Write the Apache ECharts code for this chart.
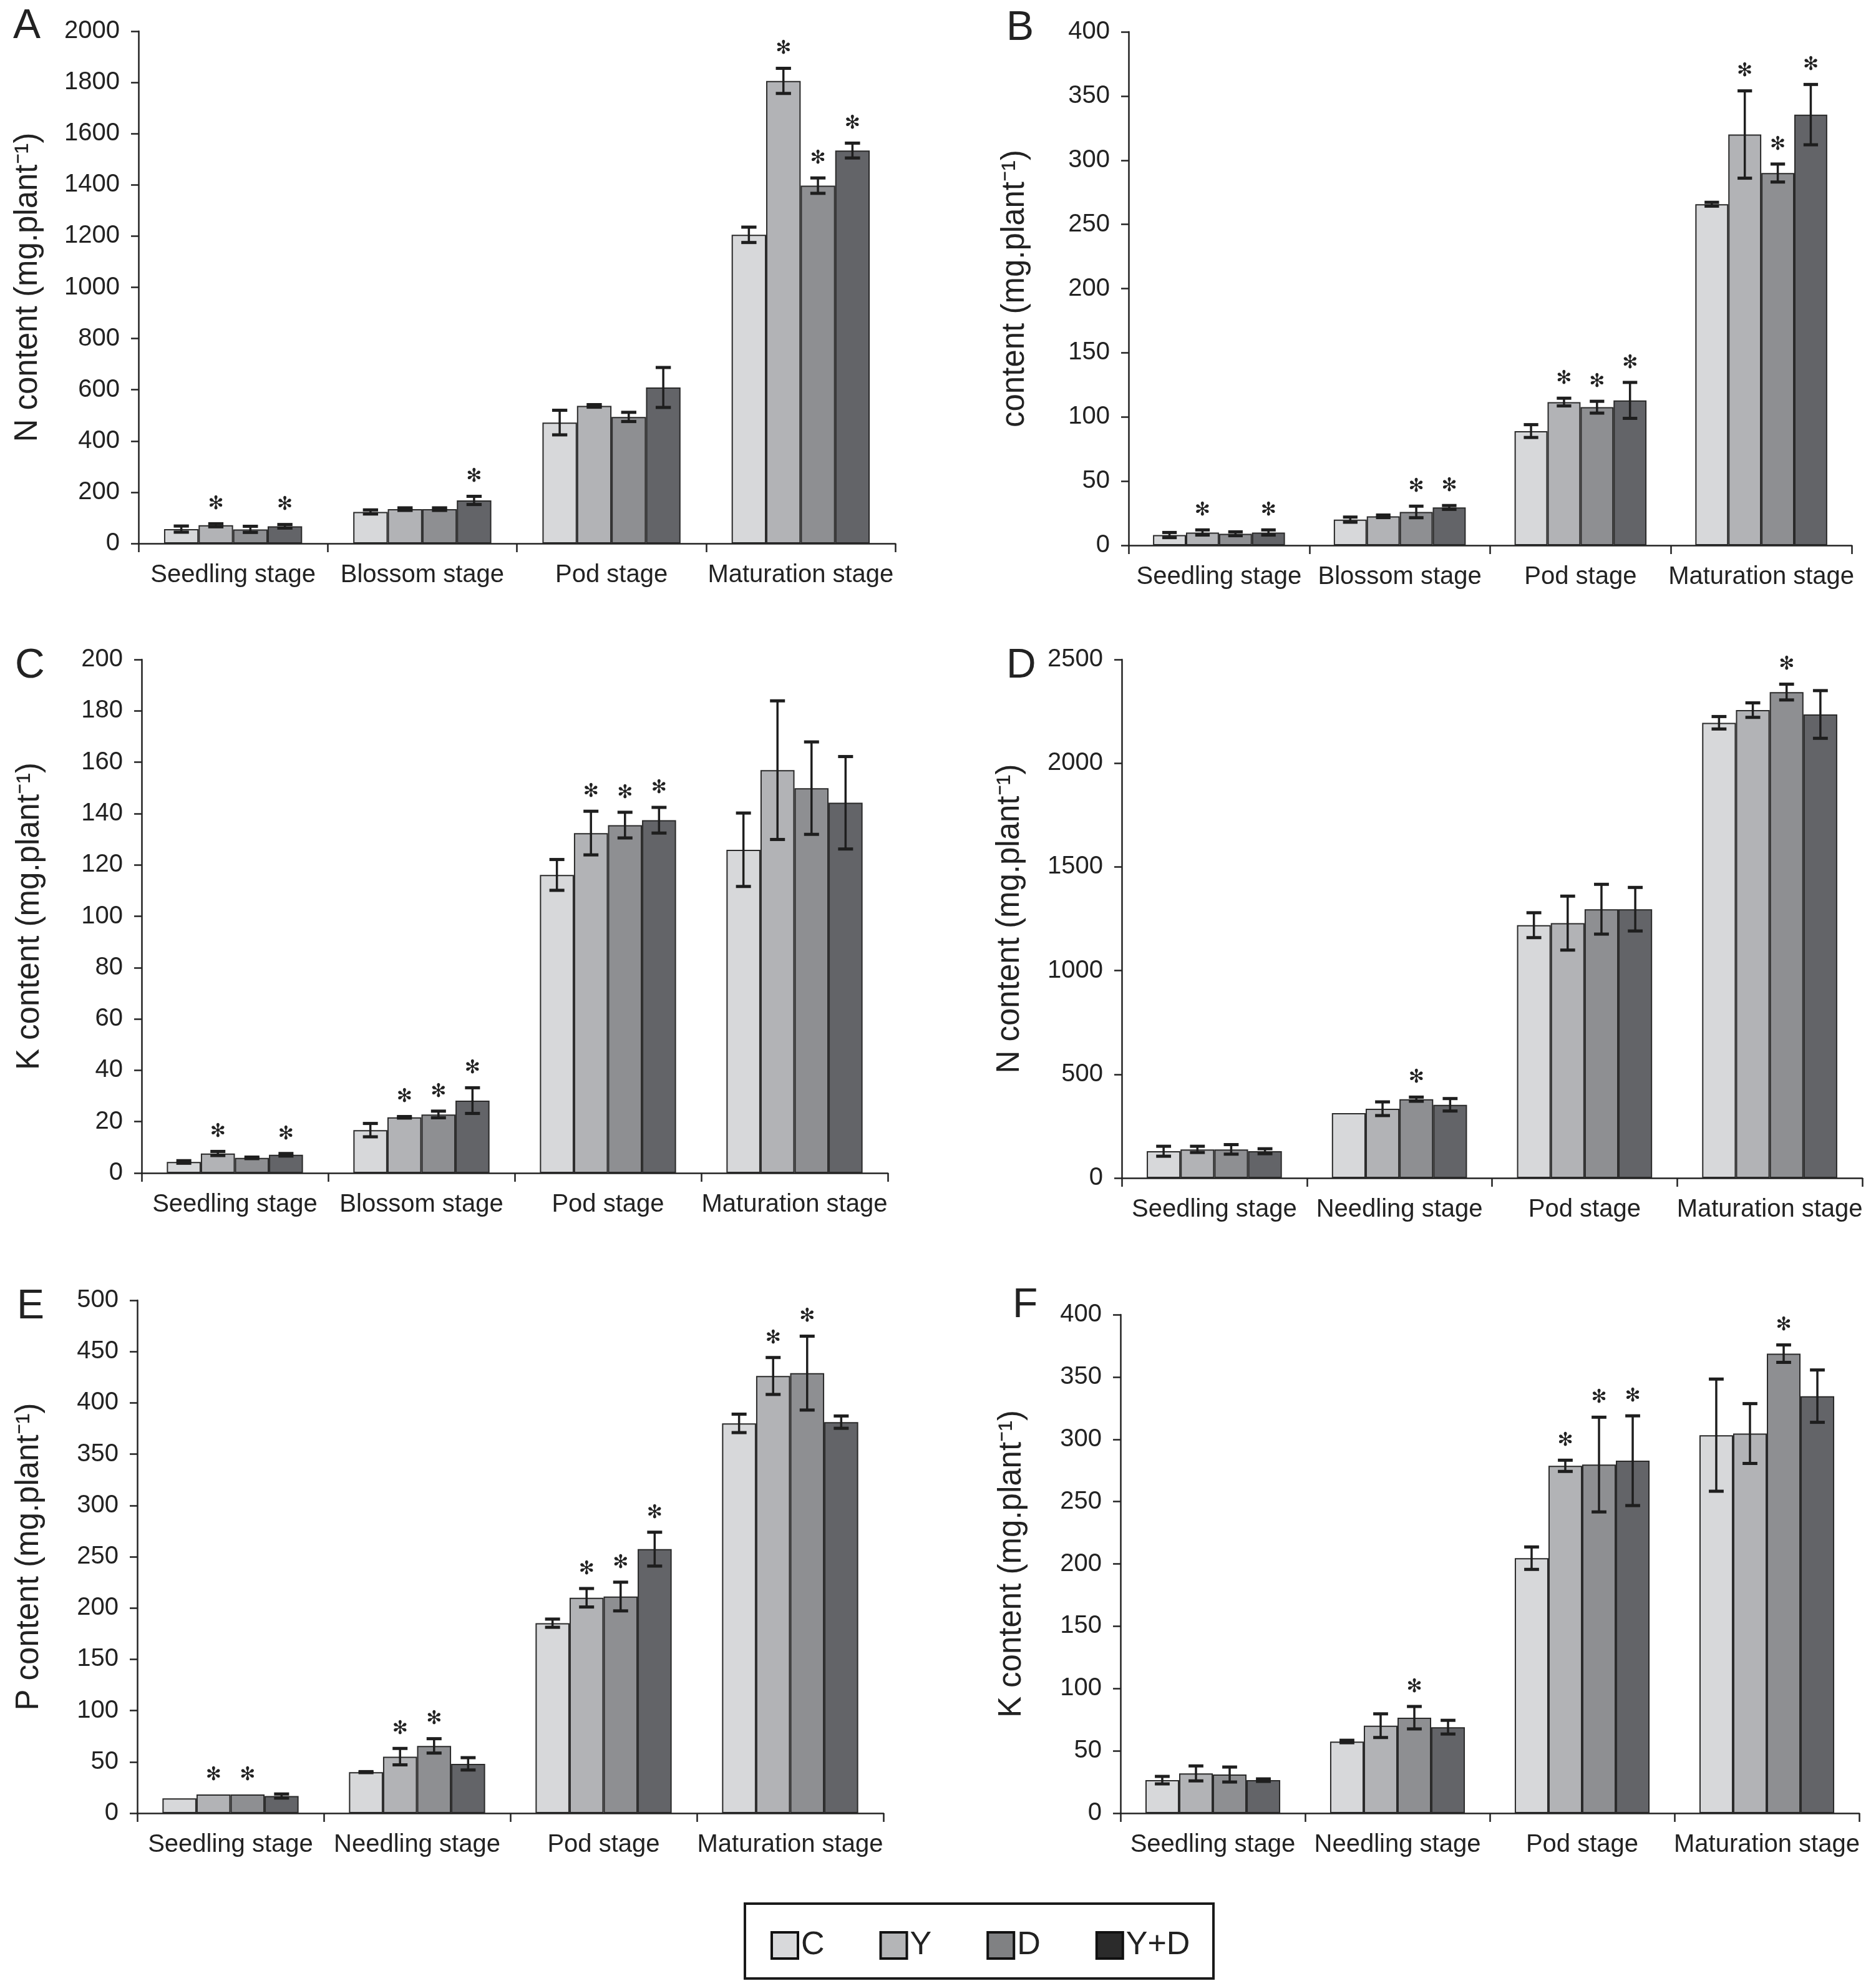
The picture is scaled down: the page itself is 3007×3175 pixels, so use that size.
<!DOCTYPE html>
<html><head><meta charset="utf-8">
<script src="https://cdn.jsdelivr.net/npm/echarts/dist/echarts.min.js"></script>
<style>html,body{margin:0;padding:0;background:#fff}#c{width:3007px;height:3175px}</style>
</head><body><div id="c"></div>
<script>
// ---------- DATA ----------
const treatments = ['C', 'Y', 'D', 'Y+D'];
const stages1 = ['Seedling stage', 'Blossom stage', 'Pod stage', 'Maturation stage'];
const stages2 = ['Seedling stage', 'Needling stage', 'Pod stage', 'Maturation stage'];

// rows: C, Y, D, Y+D ; columns: stages
const A_mean = [[56, 123, 472, 1205], [71, 134, 537, 1806], [55, 134, 494, 1397], [67, 168, 609, 1534]];
const A_err  = [[12, 8, 48, 30], [6, 5, 5, 49], [12, 5, 18, 30], [7, 16, 78, 29]];
const A_sig  = [[0, 0, 0, 0], [1, 0, 0, 1], [0, 0, 0, 1], [1, 1, 0, 1]];

const B_mean = [[8, 20, 89, 265.7], [10, 22.6, 111.6, 320], [9, 26, 107.6, 290], [10, 29.5, 112.9, 335.5]];
const B_err  = [[2, 2, 5, 1.5], [2, 1, 3, 34], [1.5, 4.5, 4.6, 7], [2, 1.5, 14, 23.5]];
const B_sig  = [[0, 0, 0, 0], [1, 0, 1, 1], [0, 1, 1, 1], [1, 1, 1, 1]];

const C_mean = [[4.3, 16.7, 116.1, 125.9], [7.6, 21.7, 132.4, 156.9], [5.9, 22.8, 135.5, 149.9], [7.1, 28.2, 137.4, 144.2]];
const C_err  = [[0.5, 2.6, 6, 14.3], [0.8, 0.3, 8.5, 27], [0.3, 1.3, 5, 18], [0.5, 5, 5, 18]];
const C_sig  = [[0, 0, 0, 0], [1, 1, 1, 0], [0, 1, 1, 0], [1, 1, 1, 0]];

const D_mean = [[129, 313, 1219, 2195], [138, 334, 1229, 2256], [138, 380, 1296, 2343], [129, 353, 1296, 2235]];
const D_err  = [[24, 0, 60, 30], [15, 33, 130, 35], [23, 10, 120, 38], [12, 30, 105, 115]];
const D_sig  = [[0, 0, 0, 0], [0, 0, 0, 0], [0, 1, 0, 1], [0, 0, 0, 0]];

const E_mean = [[14.4, 40, 185.2, 380], [18.2, 55.1, 210, 426.2], [18.2, 65.6, 211.2, 429], [16.7, 48.1, 257.4, 381.2]];
const E_err  = [[0, 0.5, 4, 9], [0, 8, 9, 18], [0, 7, 14, 36], [2, 6, 16.5, 6]];
const E_sig  = [[0, 0, 0, 0], [1, 1, 1, 1], [1, 1, 1, 1], [0, 0, 1, 0]];

const F_mean = [[26.5, 57.5, 204.6, 303.3], [31.9, 70.2, 278.7, 304.6], [31, 76.6, 279.7, 368.7], [26.5, 69, 282.8, 334.6]];
const F_err  = [[3, 1, 9, 45], [6, 9.5, 4.5, 24], [6, 9, 38, 7], [1, 5.5, 36, 21]];
const F_sig  = [[0, 0, 0, 0], [0, 0, 1, 0], [0, 1, 1, 1], [0, 0, 1, 0]];

const yNames = ['N content (mg.plant\u207B\u00B9)', 'content (mg.plant\u207B\u00B9)', 'K content (mg.plant\u207B\u00B9)',
                'N content (mg.plant\u207B\u00B9)', 'P content (mg.plant\u207B\u00B9)', 'K content (mg.plant\u207B\u00B9)'];
const yMax = [2000, 400, 200, 2500, 500, 400];
const yStep = [200, 50, 20, 500, 50, 50];

// ---------- LAYOUT / STYLE ----------
const FONT = 'Liberation Sans';
const TFONT = 'Liberation Sans';
const INK = '#222';
const fills = ['#d7d8da', '#b2b3b6', '#8e8f92', '#636468'];
const legendFills = ['#d8d9db', '#b4b5b7', '#808183', '#2b2b2b'];
const CAT_GAP = 0.27;

const panels = [
  { key: 'A', cats: stages1, mean: A_mean, err: A_err, sig: A_sig, grid: { left: 222, top: 50, width: 1213, height: 821 }, nameGap: 152, letter: [21, 43] },
  { key: 'B', cats: stages1, mean: B_mean, err: B_err, sig: B_sig, grid: { left: 1809, top: 51, width: 1159, height: 823 }, nameGap: 157, letter: [1613, 46] },
  { key: 'C', cats: stages1, mean: C_mean, err: C_err, sig: C_sig, grid: { left: 227, top: 1057, width: 1196, height: 823 }, nameGap: 154, letter: [24, 1068] },
  { key: 'D', cats: stages2, mean: D_mean, err: D_err, sig: D_sig, grid: { left: 1798, top: 1057, width: 1187, height: 831 }, nameGap: 154, letter: [1613, 1068] },
  { key: 'E', cats: stages2, mean: E_mean, err: E_err, sig: E_sig, grid: { left: 220, top: 2084, width: 1196, height: 822 }, nameGap: 148, letter: [27, 2095] },
  { key: 'F', cats: stages2, mean: F_mean, err: F_err, sig: F_sig, grid: { left: 1796, top: 2107, width: 1184, height: 799 }, nameGap: 149, letter: [1623, 2093] }
];

function makeRender(ti) {
  return function (params, api) {
    const ci = api.value(0), v = api.value(1), e = api.value(2), s = api.value(3);
    const cw = api.size([1, 0])[0];
    const gw = cw * (1 - CAT_GAP);
    const bw = gw / 4;
    const off = -gw / 2 + (ti + 0.5) * bw;
    const top = api.coord([ci, v + e]);
    const bot = api.coord([ci, v - e]);
    const x = top[0] + off;
    const cap = bw * 0.22;
    const children = [];
    if (e > 0) {
      children.push({ type: 'line', shape: { x1: x, y1: top[1], x2: x, y2: bot[1] }, style: { stroke: '#1e1e1e', lineWidth: 3.5 } });
      children.push({ type: 'line', shape: { x1: x - cap, y1: top[1], x2: x + cap, y2: top[1] }, style: { stroke: '#1e1e1e', lineWidth: 5 } });
      children.push({ type: 'line', shape: { x1: x - cap, y1: bot[1], x2: x + cap, y2: bot[1] }, style: { stroke: '#1e1e1e', lineWidth: 5 } });
    }
    if (s) {
      children.push({ type: 'text', x: x, y: top[1] - 31, style: { text: '\u273B', fontSize: 30, fontFamily: 'DejaVu Sans', fill: INK, align: 'center', verticalAlign: 'middle' } });
    }
    return { type: 'group', children: children };
  };
}

const grids = [], xAxes = [], yAxes = [], series = [], graphics = [];
panels.forEach((p, pi) => {
  grids.push(Object.assign({ containLabel: false }, p.grid));
  xAxes.push({
    type: 'category', gridIndex: pi, data: p.cats,
    axisLine: { lineStyle: { color: INK, width: 2.5 } },
    axisTick: { show: true, alignWithLabel: false, length: 14, lineStyle: { color: INK, width: 2.5 } },
    axisLabel: { fontFamily: FONT, fontSize: 40, color: INK, margin: 31, interval: 0 },
    splitLine: { show: false }
  });
  yAxes.push({
    type: 'value', gridIndex: pi, min: 0, max: yMax[pi], interval: yStep[pi],
    name: yNames[pi], nameLocation: 'middle', nameGap: p.nameGap, nameRotate: 90,
    nameTextStyle: { fontFamily: TFONT, fontSize: 51, color: INK },
    axisLine: { show: true, lineStyle: { color: INK, width: 2.5 } },
    axisTick: { show: true, length: 12, lineStyle: { color: INK, width: 2.5 } },
    axisLabel: { fontFamily: FONT, fontSize: 40, color: INK, margin: 30, formatter: (v) => String(v) },
    splitLine: { show: false }
  });
  treatments.forEach((t, ti) => {
    series.push({
      type: 'bar', name: t, xAxisIndex: pi, yAxisIndex: pi, data: p.mean[ti],
      barGap: '0%', barCategoryGap: (CAT_GAP * 100) + '%',
      itemStyle: { color: fills[ti], borderColor: '#2a2a2a', borderWidth: 2 },
      emphasis: { disabled: true }, z: 2
    });
  });
  treatments.forEach((t, ti) => {
    series.push({
      type: 'custom', name: 'err_' + p.key + '_' + t, xAxisIndex: pi, yAxisIndex: pi,
      data: p.mean[ti].map((v, ci) => [ci, v, p.err[ti][ci], p.sig[ti][ci]]),
      renderItem: makeRender(ti), z: 5, silent: true
    });
  });
  graphics.push({ type: 'text', x: p.letter[0], y: p.letter[1], style: { text: p.key, fontSize: 66, fontFamily: TFONT, fill: INK, verticalAlign: 'middle' } });
});

graphics.push({ type: 'rect', shape: { x: 1194, y: 3051, width: 751, height: 120 }, style: { fill: 'none', stroke: '#1a1a1a', lineWidth: 4 } });

const chart = echarts.init(document.getElementById('c'), null, { renderer: 'canvas', width: 3007, height: 3175 });
chart.setOption({
  backgroundColor: '#fff',
  animation: false,
  grid: grids, xAxis: xAxes, yAxis: yAxes, series: series,
  legend: {
    left: 1235, top: 3092, padding: 0, itemWidth: 42, itemHeight: 42, itemGap: 88, icon: 'rect',
    selectedMode: false,
    textStyle: { fontFamily: TFONT, fontSize: 52, color: INK },
    itemStyle: { borderColor: '#111', borderWidth: 4 },
    data: treatments.map((t, i) => ({ name: t, itemStyle: { color: legendFills[i], borderColor: '#111', borderWidth: 4 } }))
  },
  graphic: graphics
});
</script></body></html>
